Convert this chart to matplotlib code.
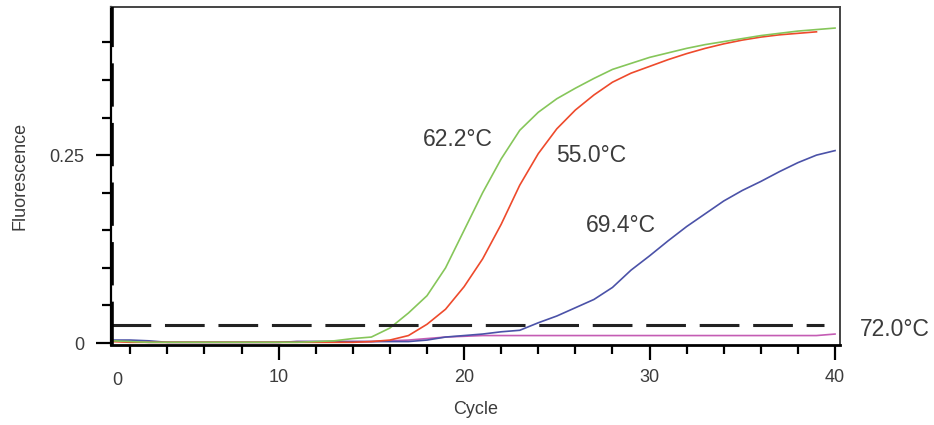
import numpy as np
import matplotlib.pyplot as plt
import matplotlib.transforms as mtransforms

plt.rcParams['font.family'] = ['Liberation Sans', 'DejaVu Sans']

# amplification curves (fluorescence per cycle)
cycles = list(range(1, 41))

green_622 = [0.003, 0.002, 0.001, 0.001, 0.001, 0.001, 0.001, 0.001, 0.001, 0.001,
             0.001, 0.002, 0.003, 0.006, 0.008, 0.020, 0.040, 0.063, 0.100, 0.150,
             0.200, 0.245, 0.283, 0.307, 0.325, 0.339, 0.352, 0.364, 0.372, 0.380,
             0.386, 0.392, 0.397, 0.401, 0.405, 0.409, 0.412, 0.415, 0.417, 0.419]

red_550 = [0.002, 0.001, 0.001, 0.001, 0.001, 0.001, 0.001, 0.001, 0.001, 0.001,
           0.001, 0.001, 0.001, 0.001, 0.002, 0.004, 0.010, 0.025, 0.045, 0.075,
           0.112, 0.158, 0.210, 0.252, 0.285, 0.310, 0.330, 0.347, 0.359, 0.368,
           0.377, 0.385, 0.392, 0.398, 0.403, 0.407, 0.410, 0.412, 0.414]

blue_694 = [0.004, 0.004, 0.003, 0.001, 0.001, 0.001, 0.001, 0.001, 0.001, 0.001,
            0.002, 0.002, 0.002, 0.002, 0.002, 0.002, 0.002, 0.004, 0.008, 0.010,
            0.012, 0.015, 0.017, 0.027, 0.036, 0.047, 0.058, 0.074, 0.097, 0.116,
            0.136, 0.155, 0.172, 0.189, 0.203, 0.215, 0.228, 0.240, 0.250, 0.256]

pink_720 = [0.003, 0.002, 0.001, 0.001, 0.001, 0.001, 0.001, 0.001, 0.001, 0.001,
            0.002, 0.002, 0.002, 0.002, 0.002, 0.003, 0.004, 0.006, 0.008, 0.009,
            0.010, 0.010, 0.010, 0.010, 0.010, 0.010, 0.010, 0.010, 0.010, 0.010,
            0.010, 0.010, 0.010, 0.010, 0.010, 0.010, 0.010, 0.010, 0.010, 0.012]

threshold = 0.024
labels = ['62.2°C', '55.0°C', '69.4°C', '72.0°C']

txt_color = '#3c3c3c'

fig = plt.figure(figsize=(9.34, 4.25), dpi=100)
ax = fig.add_axes([0.1188, 0.188, 0.7806, 0.7955])

ax.plot(cycles, pink_720, color='#c45cb4', lw=1.2)
ax.plot(cycles, blue_694, color='#4b52a8', lw=1.2)
ax.plot(cycles[:len(red_550)], red_550, color='#ee4a2c', lw=1.2)
ax.plot(cycles, green_622, color='#86c65a', lw=1.2)

# threshold line
ax.plot([0.96, 39.4], [threshold, threshold], color='#222222', lw=2.2,
        dashes=(13, 4.5))

ax.set_xlim(0.96, 40.27)
ax.set_ylim(-0.0027, 0.447)

# axes frame
for side in ['top', 'right']:
    ax.spines[side].set_color('#444444')
    ax.spines[side].set_linewidth(1.4)
ax.spines['bottom'].set_linewidth(2.0)
ax.spines['left'].set_linewidth(1.6)
# dashed overlay on the left axis, as in the original print
ax.axvline(1.04, color='black', lw=2.6, dashes=(12, 4.5), zorder=5)

ax.set_xticks([10, 20, 30, 40])
ax.set_xticks(np.arange(2, 40, 2), minor=True)
ax.set_yticks([0, 0.25], ['0', '0.25'])
ax.set_yticks([0.05, 0.10, 0.15, 0.20, 0.30, 0.35, 0.40], minor=True)
ax.tick_params(axis='both', which='major', length=11, width=1.6, color='black',
               labelsize=13, labelcolor=txt_color)
ax.tick_params(axis='both', which='minor', length=6.5, width=1.6, color='black')
ax.tick_params(axis='x', which='major', pad=6)
ax.tick_params(axis='y', which='major', pad=8)

# "0" label of the cycle axis sits left of the first tick
trans = mtransforms.blended_transform_factory(ax.transData, ax.transAxes)
ax.text(1.3, -0.105, '0', transform=trans, ha='center', va='center',
        fontsize=13, color=txt_color)

ax.set_xlabel('Cycle', fontsize=13, color=txt_color, labelpad=11)
ax.set_ylabel('Fluorescence', fontsize=13, color=txt_color, labelpad=15)

tl = fig.transFigure
ax.text(458 / 934, 1 - 140 / 425, labels[0], transform=tl, fontsize=16.5,
        color=txt_color, ha='center', va='center')
ax.text(591 / 934, 1 - 156 / 425, labels[1], transform=tl, fontsize=16.5,
        color=txt_color, ha='center', va='center')
ax.text(621 / 934, 1 - 225 / 425, labels[2], transform=tl, fontsize=16.5,
        color=txt_color, ha='center', va='center')
ax.text(895 / 934, 1 - 330 / 425, labels[3], transform=tl, fontsize=16.5,
        color=txt_color, ha='center', va='center')

fig.savefig('out.png', dpi=100)
